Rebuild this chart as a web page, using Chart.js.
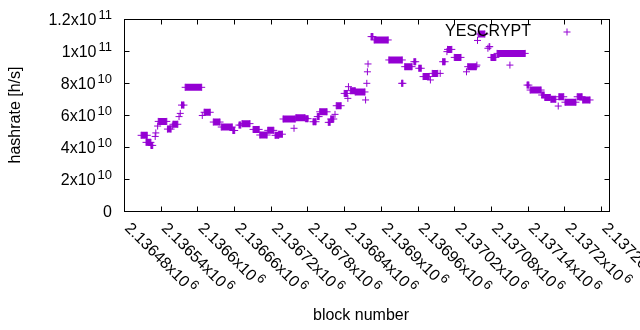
<!DOCTYPE html>
<html>
<head>
<meta charset="utf-8">
<script src="https://cdn.jsdelivr.net/npm/chart.js@4"></script>
<style>
  html, body { margin: 0; padding: 0; background: #fff; }
  #wrap { width: 640px; height: 330px; }
</style>
</head>
<body>
<div id="wrap"><canvas id="chart-yescrypt" width="640" height="330"></canvas></div>
<script>
// runs of blocks with the same hashrate (block from, block to, hashrate in 1e10 h/s)
const runFrom = [
    2136508, 2136516, 2136524, 2136531, 2136532, 2136535, 2136536, 2136551, 2136559, 2136560,
    2136570, 2136572, 2136574, 2136580, 2136608, 2136611, 2136626, 2136639, 2136658, 2136668,
    2136673, 2136691, 2136702, 2136715, 2136727, 2136733, 2136740, 2136758, 2136761, 2136777,
    2136789, 2136796, 2136800, 2136814, 2136818, 2136825, 2136827, 2136840, 2136846, 2136847,
    2136850, 2136858, 2136875, 2136877, 2136878, 2136879, 2136884, 2136889, 2136913, 2136934,
    2136939, 2136954, 2136962, 2136969, 2136981, 2136984, 2136997, 2137001, 2137008, 2137009,
    2137020, 2137040, 2137042, 2137057, 2137058, 2137059, 2137075, 2137077, 2137080, 2137090,
    2137111, 2137139, 2137144, 2137163, 2137168, 2137178, 2137190, 2137191, 2137201, 2137221,
    2137230
];
const runTo = [
    2136518, 2136524, 2136527, 2136531, 2136532, 2136535, 2136550, 2136557, 2136559, 2136568,
    2136570, 2136572, 2136578, 2136607, 2136608, 2136621, 2136637, 2136657, 2136661, 2136671,
    2136686, 2136701, 2136714, 2136725, 2136733, 2136739, 2136760, 2136758, 2136776, 2136781,
    2136794, 2136799, 2136812, 2136817, 2136823, 2136825, 2136835, 2136845, 2136846, 2136847,
    2136858, 2136874, 2136875, 2136877, 2136878, 2136879, 2136887, 2136912, 2136935, 2136936,
    2136951, 2136957, 2136966, 2136979, 2136981, 2136993, 2136997, 2137005, 2137008, 2137016,
    2137031, 2137040, 2137056, 2137057, 2137058, 2137070, 2137075, 2137078, 2137088, 2137136,
    2137111, 2137142, 2137162, 2137167, 2137177, 2137186, 2137190, 2137199, 2137219, 2137229,
    2137242
];
const hashrateE10 = [
    4.73, 4.29, 4.10, 4.66, 4.88, 5.31, 5.60, 5.12, 5.31, 5.42,
    5.90, 6.10, 6.62, 7.73, 5.97, 6.17, 5.56, 5.25, 5.03, 5.37,
    5.46, 5.10, 4.75, 5.04, 4.73, 4.80, 5.75, 5.17, 5.83, 5.77,
    5.58, 5.90, 6.20, 5.54, 5.75, 6.04, 6.58, 7.35, 7.04, 7.77,
    7.52, 7.44, 6.94, 7.98, 8.70, 9.19, 10.90, 10.69, 9.44, 7.98,
    9.02, 9.33, 8.92, 8.40, 8.19, 8.60, 8.60, 9.33, 9.96, 10.10,
    9.60, 8.70, 9.02, 9.12, 10.66, 11.06, 10.17, 10.27, 9.60, 9.85,
    9.12, 7.87, 7.56, 7.25, 7.10, 6.98, 6.56, 7.14, 6.80, 7.14,
    6.94
];

const xTicks = [2136480, 2136540, 2136600, 2136660, 2136720, 2136780, 2136840,
                2136900, 2136960, 2137020, 2137080, 2137140, 2137200, 2137260];
const xTickLabels = ["2.13648x10", "2.13654x10", "2.1366x10", "2.13666x10", "2.13672x10",
                     "2.13678x10", "2.13684x10", "2.1369x10", "2.13696x10", "2.13702x10",
                     "2.13708x10", "2.13714x10", "2.1372x10", "2.13726x10"];
const xTickExp = "6";
const yTicks = [0, 2, 4, 6, 8, 10, 12];
const yTickLabels = ["0", "2x10", "4x10", "6x10", "8x10", "1x10", "1.2x10"];
const yTickExp = ["", "10", "10", "10", "10", "11", "11"];

const COLOR = '#9400d3';
const FONT = '"Liberation Sans", Arial, sans-serif';

// one point per run end, with a gap between runs
const points = [];
runFrom.forEach((from, i) => {
    points.push({ x: from, y: hashrateE10[i] });
    if (runTo[i] !== from) points.push({ x: runTo[i], y: hashrateE10[i] });
    points.push({ x: runTo[i], y: null });
});

function drawLabel(ctx, x, y, main, exp) {
    ctx.font = '16px ' + FONT;
    ctx.fillText(main, x, y);
    if (!exp) return;
    const w = ctx.measureText(main).width;
    ctx.font = '13px ' + FONT;
    ctx.fillText(exp, x + w + 2, y - 6);
}

function labelWidth(ctx, main, exp) {
    ctx.font = '16px ' + FONT;
    let w = ctx.measureText(main).width;
    if (exp) {
        ctx.font = '13px ' + FONT;
        w += 2 + ctx.measureText(exp).width;
    }
    return w;
}

const gnuplotFrame = {
    id: 'gnuplotFrame',
    afterDraw(chart) {
        const ctx = chart.ctx;
        const ca = chart.chartArea;
        const xs = chart.scales.x, ys = chart.scales.y;
        const L = ca.left + 0.5, R = ca.right + 0.5, T = ca.top + 0.5, B = ca.bottom + 0.5;
        const tick = 5;
        ctx.save();
        ctx.strokeStyle = '#000';
        ctx.lineWidth = 1;
        ctx.strokeRect(L, T, R - L, B - T);

        ctx.beginPath();
        yTicks.forEach(v => {
            const py = Math.round(ys.getPixelForValue(v)) + 0.5;
            ctx.moveTo(L, py); ctx.lineTo(L + tick, py);
            ctx.moveTo(R, py); ctx.lineTo(R - tick, py);
        });
        xTicks.forEach(v => {
            const px = Math.round(xs.getPixelForValue(v)) + 0.5;
            if (px > R) return;
            ctx.moveTo(px, B); ctx.lineTo(px, B - tick);
            ctx.moveTo(px, T); ctx.lineTo(px, T + tick);
        });
        ctx.stroke();

        ctx.fillStyle = '#000';
        ctx.textAlign = 'left';
        ctx.textBaseline = 'alphabetic';

        // y tick labels, right aligned
        yTicks.forEach((v, i) => {
            const py = ys.getPixelForValue(v);
            const w = labelWidth(ctx, yTickLabels[i], yTickExp[i]);
            drawLabel(ctx, 112 - w, py + 5.5, yTickLabels[i], yTickExp[i]);
        });

        // x tick labels, rotated down to the right
        xTicks.forEach((v, i) => {
            const px = xs.getPixelForValue(v);
            ctx.save();
            ctx.translate(px + 4, ca.bottom + 14);
            ctx.rotate(Math.PI / 4);
            drawLabel(ctx, 0, 5.5, xTickLabels[i], xTickExp);
            ctx.restore();
        });

        // axis titles
        ctx.font = '16px ' + FONT;
        ctx.textAlign = 'center';
        ctx.textBaseline = 'middle';
        ctx.fillText('block number', 361, 316);
        ctx.save();
        ctx.translate(16, 115);
        ctx.rotate(-Math.PI / 2);
        ctx.fillText('hashrate [h/s]', 0, 0);
        ctx.restore();

        // key
        ctx.textAlign = 'right';
        ctx.fillText('YESCRYPT', 531, 32);
        ctx.strokeStyle = COLOR;
        ctx.beginPath();
        ctx.moveTo(563.5, 32); ctx.lineTo(570.5, 32);
        ctx.moveTo(567, 28.5); ctx.lineTo(567, 35.5);
        ctx.stroke();
        ctx.restore();
    }
};

new Chart(document.getElementById('chart-yescrypt'), {
    type: 'scatter',
    data: {
        datasets: [{
            label: 'YESCRYPT',
            data: points,
            showLine: true,
            spanGaps: false,
            borderColor: COLOR,
            backgroundColor: COLOR,
            borderWidth: 7,
            borderCapStyle: 'butt',
            pointStyle: 'cross',
            pointRadius: 3.5,
            pointBorderWidth: 1,
            pointBorderColor: COLOR,
            pointHoverRadius: 3.5
        }]
    },
    options: {
        responsive: false,
        animation: false,
        layout: { padding: { left: 124, right: 31, top: 19, bottom: 119 } },
        plugins: { legend: { display: false }, tooltip: { enabled: false } },
        scales: {
            x: { type: 'linear', min: 2136480, max: 2137273, display: false },
            y: { type: 'linear', min: 0, max: 12, display: false }
        }
    },
    plugins: [gnuplotFrame]
});
</script>
</body>
</html>
